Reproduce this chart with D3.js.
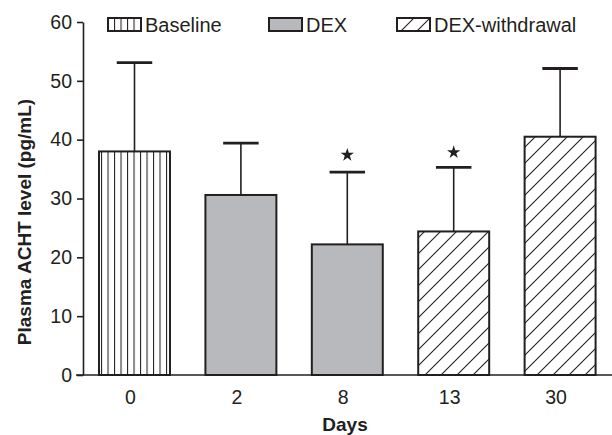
<!DOCTYPE html>
<html>
<head>
<meta charset="utf-8">
<script src="https://cdn.jsdelivr.net/npm/d3@7"></script>
<style>
  body { margin: 0; background: #fff; }
  text { font-family: "Liberation Sans", Arial, sans-serif; fill: #231f20; }
</style>
</head>
<body>
<script>
// Chart data
var days = ["0", "2", "8", "13", "30"];
var groups = ["Baseline", "DEX", "DEX", "DEX-withdrawal", "DEX-withdrawal"];
var means = [38.0, 30.6, 22.2, 24.4, 40.5];
var errors = [15.1, 8.8, 12.3, 10.9, 11.6];
var significant = [false, false, true, true, false];
var yTicks = [0, 10, 20, 30, 40, 50, 60];
var legendLabels = ["Baseline", "DEX", "DEX-withdrawal"];

var svgWidth = 612;
var svgHeight = 435;
var ink = "#231f20";

var svg = d3.select("body")
  .append("svg")
  .attr("width", svgWidth)
  .attr("height", svgHeight);

// Patterns for bar fills
var defs = svg.append("defs");

var stripes = defs.append("pattern")
  .attr("id", "stripes")
  .attr("patternUnits", "userSpaceOnUse")
  .attr("x", 3.5)
  .attr("width", 6.5)
  .attr("height", 10);
stripes.append("rect").attr("width", 6.5).attr("height", 10).attr("fill", "#fff");
stripes.append("line")
  .attr("x1", 0.5).attr("x2", 0.5).attr("y1", 0).attr("y2", 10)
  .attr("stroke", ink).attr("stroke-width", 1.1);

var hatch = defs.append("pattern")
  .attr("id", "hatch")
  .attr("patternUnits", "userSpaceOnUse")
  .attr("width", 16)
  .attr("height", 16);
hatch.append("rect").attr("width", 16).attr("height", 16).attr("fill", "#fff");
hatch.append("path")
  .attr("d", "M-4,4 L4,-4 M0,16 L16,0 M12,20 L20,12")
  .attr("stroke", ink).attr("stroke-width", 1.1);

var fills = {
  "Baseline": "url(#stripes)",
  "DEX": "#b8b9bc",
  "DEX-withdrawal": "url(#hatch)"
};

// Scales
var x = d3.scaleBand()
  .domain(days)
  .range([81.3, 613.3])
  .paddingInner(0.333)
  .paddingOuter(0.1665);

var y = d3.scaleLinear()
  .domain([0, 60])
  .range([375, 22]);

// Bars
svg.append("g")
  .selectAll("rect")
  .data(days)
  .enter()
  .append("rect")
  .attr("x", d => x(d))
  .attr("y", (d, i) => y(means[i]))
  .attr("width", x.bandwidth())
  .attr("height", (d, i) => y(0) - y(means[i]))
  .attr("fill", (d, i) => fills[groups[i]])
  .attr("stroke", ink)
  .attr("stroke-width", 2);

// Error bars (upper only)
var err = svg.append("g");
days.forEach(function(d, i) {
  var cx = x(d) + x.bandwidth() / 2;
  err.append("line")
    .attr("x1", cx).attr("x2", cx)
    .attr("y1", y(means[i])).attr("y2", y(means[i] + errors[i]))
    .attr("stroke", ink).attr("stroke-width", 1.6);
  err.append("line")
    .attr("x1", cx - x.bandwidth() / 4).attr("x2", cx + x.bandwidth() / 4)
    .attr("y1", y(means[i] + errors[i])).attr("y2", y(means[i] + errors[i]))
    .attr("stroke", ink).attr("stroke-width", 2.8);
  if (significant[i]) {
    err.append("path")
      .attr("d", d3.symbol(d3.symbolStar, 55)())
      .attr("transform", `translate(${cx}, ${Math.min(y(means[i] + errors[i]) - 15, 155)})`)
      .attr("fill", ink);
  }
});

// Y axis
var leftAxis = d3.axisLeft(y)
  .tickValues(yTicks)
  .tickSize(6)
  .tickSizeOuter(0)
  .tickPadding(5);

var yAxis = svg.append("g")
  .attr("transform", "translate(83, 0)")
  .call(leftAxis);
yAxis.select(".domain").attr("stroke", ink).attr("stroke-width", 1.6);
yAxis.selectAll(".tick line").attr("stroke", ink).attr("stroke-width", 1.6);
yAxis.selectAll(".tick text")
  .style("font-family", "Liberation Sans, Arial, sans-serif")
  .style("font-size", "19.5px")
  .attr("fill", ink);

// X axis line and labels
svg.append("line")
  .attr("x1", 76).attr("x2", 612)
  .attr("y1", y(0)).attr("y2", y(0))
  .attr("stroke", ink).attr("stroke-width", 1.6);

svg.append("g")
  .selectAll("text")
  .data(days)
  .enter()
  .append("text")
  .attr("x", d => x(d) + x.bandwidth() / 2 - 4)
  .attr("y", 404)
  .attr("text-anchor", "middle")
  .style("font-size", "19.5px")
  .text(d => d);

// Axis titles
svg.append("text")
  .attr("x", 345)
  .attr("y", 431)
  .attr("text-anchor", "middle")
  .style("font-size", "19px")
  .style("font-weight", "bold")
  .text("Days");

svg.append("text")
  .attr("transform", "rotate(-90)")
  .attr("x", -222)
  .attr("y", 31)
  .attr("text-anchor", "middle")
  .style("font-size", "19px")
  .style("font-weight", "bold")
  .text("Plasma ACHT level (pg/mL)");

// Legend
var legendX = [108, 269, 397];
var legend = svg.append("g");
legendLabels.forEach(function(label, i) {
  legend.append("rect")
    .attr("x", legendX[i])
    .attr("y", 18)
    .attr("width", 33)
    .attr("height", 13)
    .attr("fill", fills[label])
    .attr("stroke", ink)
    .attr("stroke-width", 2);
  legend.append("text")
    .attr("x", legendX[i] + 37)
    .attr("y", 32)
    .style("font-size", "20px")
    .text(label);
});
</script>
</body>
</html>
